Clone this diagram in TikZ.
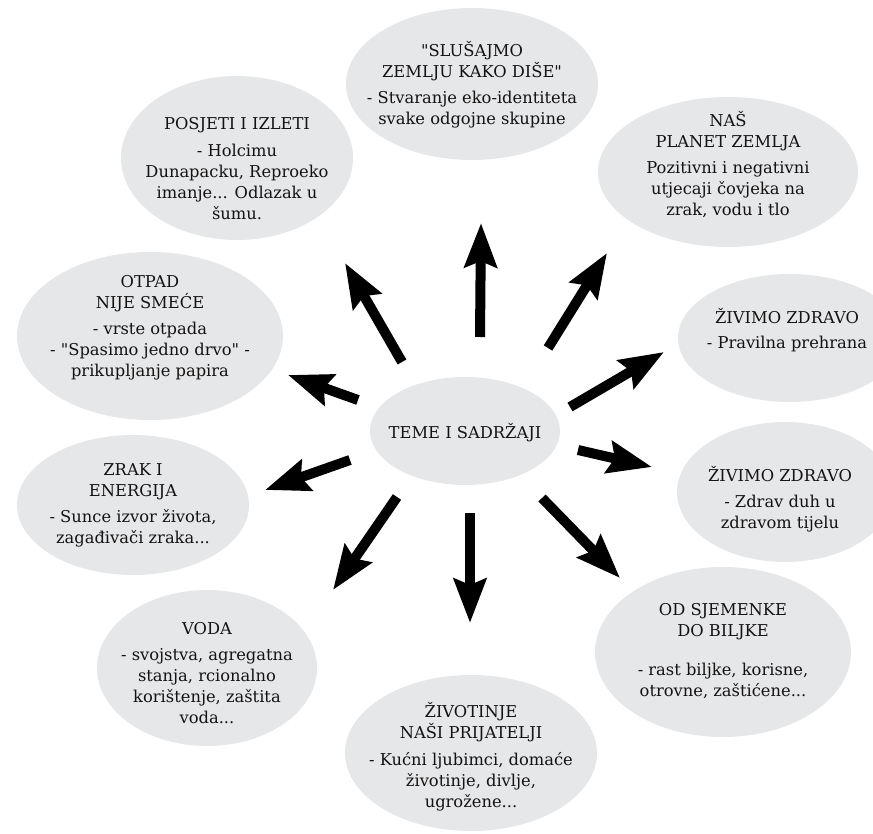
\documentclass[tikz,border=0pt]{standalone}
\usepackage{fontspec}
\setmainfont{DejaVu Serif}[Ligatures=TeXOff]
\usetikzlibrary{shapes.geometric,arrows.meta}
\definecolor{bubblegray}{RGB}{230,231,232}
\definecolor{inkblack}{RGB}{20,18,18}
\begin{document}
\begin{tikzpicture}[x=1pt,y=-1pt,
  bubble/.style={ellipse,fill=bubblegray,inner sep=0pt},
  lbl/.style={align=center,font=\fontsize{16.3}{21}\selectfont,text=inkblack,inner sep=0pt},
  bigarrow/.style={line width=10pt,black,-{Stealth[length=44pt,width=32pt,inset=6pt]}}]
\useasboundingbox (0,0) rectangle (873,834);
\clip (0,0) rectangle (873,834);

% bubbles
\node[bubble,minimum width=252pt,minimum height=152pt] (eTop) at (472,84) {};
\node[bubble,minimum width=260pt,minimum height=150pt] (ePlanet) at (728,172) {};
\node[bubble,minimum width=232pt,minimum height=164pt] (ePosjeti) at (237,158) {};
\node[bubble,minimum width=266pt,minimum height=168pt] (eOtpad) at (150,336) {};
\node[bubble,minimum width=224pt,minimum height=128pt] (eZdravoA) at (790,338) {};
\node[bubble,minimum width=216pt,minimum height=140pt] (eZdravoB) at (785,492) {};
\node[bubble,minimum width=232pt,minimum height=140pt] (eZrak) at (133,505) {};
\node[bubble,minimum width=220pt,minimum height=156pt] (eVoda) at (207,668) {};
\node[bubble,minimum width=256pt,minimum height=170pt] (eSjeme) at (723,652) {};
\node[bubble,minimum width=252pt,minimum height=156pt] (eZivot) at (471,753) {};
\node[bubble,minimum width=190pt,minimum height=108pt] (eCenter) at (465,431) {};

% texts
\node[lbl] (tTop) at (472,85) {"SLUŠAJMO\\ZEMLJU KAKO DIŠE"\\[5pt]- Stvaranje eko-identiteta\\svake odgojne skupine};
\node[lbl] (tPlanet) at (728,165) {NAŠ\\PLANET ZEMLJA\\[5pt]Pozitivni i negativni\\utjecaji čovjeka na\\zrak, vodu i tlo};
\node[lbl] (tPosjeti) at (237,169) {POSJETI I IZLETI\\[6pt]- Holcimu\\Dunapacku, Reproeko\\imanje... Odlazak u\\šumu.};
\node[lbl] (tOtpad) at (150,328) {OTPAD\\NIJE SMEĆE\\[5pt]- vrste otpada\\- "Spasimo jedno drvo" -\\prikupljanje papira};
\node[lbl] (tZdravoA) at (787,330) {ŽIVIMO ZDRAVO\\[4pt]- Pravilna prehrana};
\node[lbl] (tZdravoB) at (780,499) {ŽIVIMO ZDRAVO\\[5pt]- Zdrav duh u\\zdravom tijelu};
\node[lbl] (tZrak) at (133,505) {ZRAK I\\ENERGIJA\\[5pt]- Sunce izvor života,\\zagađivači zraka...};
\node[lbl] (tVoda) at (207,673) {VODA\\[5pt]- svojstva, agregatna\\stanja, rcionalno\\korištenje, zaštita\\voda...};
\node[lbl] (tSjeme) at (723,651) {OD SJEMENKE\\DO BILJKE\\[18pt]- rast biljke, korisne,\\otrovne, zaštićene...};
\node[lbl] (tZivot) at (471,757) {ŽIVOTINJE\\NAŠI PRIJATELJI\\[6pt]- Kućni ljubimci, domaće\\životinje, divlje,\\ugrožene...};
\node[lbl] (tCenter) at (465,433) {TEME I SADRŽAJI};

% arrow end points
\coordinate (a1s) at (480,337);  \coordinate (a1e) at (481,223);
\coordinate (a2s) at (548,348);  \coordinate (a2e) at (607,253);
\coordinate (a3s) at (570,407);  \coordinate (a3e) at (664,352);
\coordinate (a4s) at (578,450);  \coordinate (a4e) at (652,467);
\coordinate (a5s) at (542,498);  \coordinate (a5e) at (620,578);
\coordinate (a6s) at (470,513);  \coordinate (a6e) at (470,623);
\coordinate (a7s) at (397,497);  \coordinate (a7e) at (333,590);
\coordinate (a8s) at (350,460);  \coordinate (a8e) at (265,490);
\coordinate (a9s) at (358,400);  \coordinate (a9e) at (288,375);
\coordinate (a10s) at (402,362); \coordinate (a10e) at (345,263);

\foreach \i in {1,...,10} {
  \draw[bigarrow] (a\i s) -- (a\i e);
}
\end{tikzpicture}
\end{document}
